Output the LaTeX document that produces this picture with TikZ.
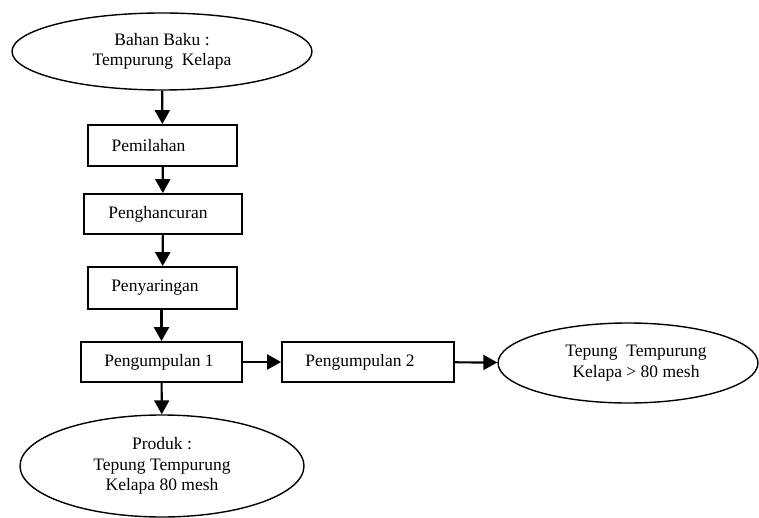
\documentclass[tikz,border=0pt]{standalone}
\usepackage{fontspec}
\setmainfont{Liberation Serif}
\usetikzlibrary{shapes.geometric,arrows.meta}
\begin{document}
\begin{tikzpicture}[x=1pt,y=-1pt,
  every node/.style={font=\fontsize{17.5}{20.5}\selectfont},
  procbox/.style={draw,line width=1.8pt,rectangle,inner sep=0pt,minimum height=41pt},
  termell/.style={draw,line width=1.4pt,ellipse,inner sep=0pt,align=center},
  flow/.style={line width=2.2pt,-{Triangle[length=14pt,width=15pt]}}]
\useasboundingbox (0,0) rectangle (759,518);
\node[termell,minimum width=300pt,minimum height=77pt] (baku) at (162,51.5) {Bahan Baku :\\Tempurung\ \ Kelapa};
\node[procbox,minimum width=149pt] (pilah) at (162.5,145.5) {Pemilahan\hspace*{28pt}};
\node[procbox,minimum width=158pt,minimum height=40pt] (hancur) at (163,214) {Penghancuran\hspace*{10pt}};
\node[procbox,minimum width=149pt,minimum height=42pt] (saring) at (162.5,288) {Penyaringan\hspace*{15pt}};
\node[procbox,minimum width=161pt,minimum height=40pt] (kump1) at (161.5,362) {Pengumpulan 1\hspace*{5pt}};
\node[procbox,minimum width=172pt,minimum height=40pt] (kump2) at (368,362) {Pengumpulan 2\hspace*{16pt}};
\node[termell,minimum width=260pt,minimum height=80pt] (kasar) at (628,363) {\hspace*{16pt}Tepung\ \ Tempurung\\\hspace*{16pt}Kelapa > 80 mesh};
\node[termell,minimum width=284pt,minimum height=102pt] (produk) at (162,466) {Produk :\\Tepung Tempurung\\Kelapa 80 mesh};
\draw[flow] (baku) -- (pilah);
\draw[flow] (pilah) -- (hancur);
\draw[flow] (hancur) -- (saring);
\draw[flow] (saring.south -| kump1) -- (kump1);
\draw[flow] (kump1) -- (kump2);
\draw[flow] (kump2) -- (kasar);
\draw[flow] (kump1) -- (produk);
\end{tikzpicture}
\end{document}
